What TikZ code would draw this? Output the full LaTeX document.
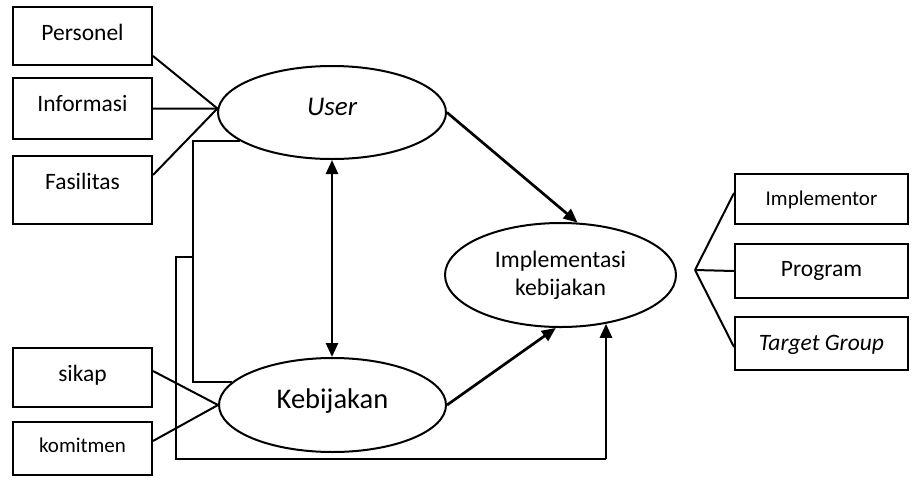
\documentclass[tikz,border=0pt]{standalone}
\usepackage{fontspec}
\setmainfont{Carlito}
\usetikzlibrary{shapes.geometric,arrows.meta}
\begin{document}
\begin{tikzpicture}[x=1pt,y=-1pt,
  box/.style={draw, line width=2pt, rectangle, inner sep=0pt,
    font=\fontsize{23.5}{28}\selectfont, text height=15pt, text depth=5pt},
  smallbox/.style={box, font=\fontsize{21}{25}\selectfont, text height=13.5pt},
  oval/.style={draw, line width=2pt, ellipse, inner sep=0pt},
  link/.style={line width=2pt},
  arr/.style={line width=2.7pt, -{Triangle[length=14pt,width=12pt]}},
  darr/.style={line width=2.7pt, {Triangle[length=14pt,width=12pt]}-{Triangle[length=14pt,width=12pt]}},
]
\useasboundingbox (0,0) rectangle (913,483);

% left boxes
\node[box, minimum width=139pt, minimum height=58pt, text depth=6pt] (pers) at (82.5,36) {Personel};
\node[box, minimum width=139pt, minimum height=61pt, text depth=9pt] (info) at (82.5,108.5) {Informasi};
\node[box, minimum width=139pt, minimum height=68pt, text depth=16pt] (fas) at (82.5,190) {Fasilitas};
\node[box, minimum width=139pt, minimum height=59pt, text depth=7pt] (sik) at (82.5,377.5) {sikap};
\node[smallbox, minimum width=139pt, minimum height=53pt, text depth=5pt] (kom) at (82.5,448.5) {komitmen};

% right boxes
\node[smallbox, minimum width=173pt, minimum height=50pt, text depth=1pt] (imp) at (821.5,199) {Implementor};
\node[box, minimum width=173pt, minimum height=54pt, text depth=5pt] (prog) at (821.5,271) {Program};
\node[box, minimum width=173pt, minimum height=53pt, text depth=2pt] (tg) at (821.5,343.5) {\itshape Target Group};

% ellipses
\node[oval, minimum width=228pt, minimum height=93pt, font=\fontsize{27}{32}\selectfont\itshape, text height=17.4pt, text depth=12pt] (user) at (332,112.5) {User};
\node[oval, minimum width=227pt, minimum height=94pt, font=\fontsize{28.5}{34}\selectfont, text height=18.4pt, text depth=11pt] (keb) at (332.5,405) {Kebijakan};
\node[oval, minimum width=231pt, minimum height=104pt, font=\fontsize{23.7}{28}\selectfont, align=center] (impl) at (560.5,275) {Implementasi\\kebijakan};

% helper coordinates
\coordinate (hub) at (695,270);
\coordinate (bx) at (193,0);
\coordinate (lx) at (176,0);
\coordinate (j) at (193,257);
\coordinate (bot) at (0,459);

% left links
\draw[link] ([yshift=10pt]pers.south east) -- (user.178);
\draw[link] (info.east) -- (user.178);
\draw[link] ([yshift=-20pt]fas.north east) -- (user.178);
\draw[link] ([yshift=6.5pt]sik.east) -- (keb.west);
\draw[link] ([yshift=7.5pt]kom.east) -- (keb.west);

% right links
\draw[link] (hub) -- ([yshift=6pt]imp.west);
\draw[link] (hub) -- (prog.west);
\draw[link] (hub) -- ([yshift=-3.5pt]tg.west);

% brackets
\draw[link] (user.197) -- (user.197 -| bx) |- (keb.167);
\draw[link] (j) -- (j -| lx) -- (lx |- bot) -- (bot -| impl.313);
\draw[arr] (bot -| impl.313) -- (impl.313);

% arrows
\draw[darr] (user.south) -- (user.south |- keb.north);
\draw[arr] (user.east) -- (impl.72);
\draw[arr] (keb.east) -- (impl.265);
\end{tikzpicture}
\end{document}
